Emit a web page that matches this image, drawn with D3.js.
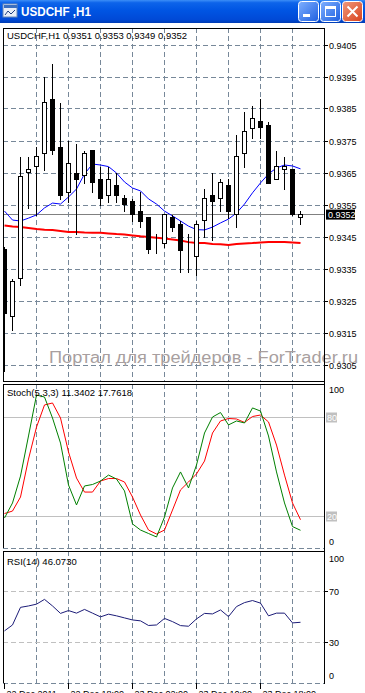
<html>
<head>
<meta charset="UTF-8">
<title>USDCHF,H1</title>
<script src="https://d3js.org/d3.v7.min.js"></script>
<style>
html,body{margin:0;padding:0;background:#fff;}
svg{display:block;}
text{font-family:"Liberation Sans",Arial,sans-serif;}
</style>
</head>
<body>
<div id="container"></div>
<script>
// candles, H1 bars starting 22 Dec 2011 10:00
const openP  = [0.9341,0.9320,0.9332,0.9365,0.9367,0.9371,0.9388,0.9373,0.9359,0.9365,0.9364,0.9372,0.9363,0.9358,0.9361,0.9357,0.9356,0.9353,0.9351,0.9342,0.9343,0.9351,0.9349,0.9340,0.9339,0.9350,0.9358,0.9357,0.9361,0.9352,0.9371,0.9379,0.9381,0.9380,0.9363,0.9366,0.9366,0.9351];
const highP  = [0.9342,0.9332,0.9370,0.9370,0.9373,0.9395,0.9399,0.9387,0.9375,0.9374,0.9372,0.9372,0.9367,0.9367,0.9365,0.9358,0.9357,0.9359,0.9351,0.9346,0.9352,0.9352,0.9350,0.9346,0.9350,0.9360,0.9365,0.9363,0.9363,0.9377,0.9384,0.9386,0.9388,0.9381,0.9372,0.9370,0.9366,0.9353];
const lowP   = [0.9303,0.9316,0.9330,0.9354,0.9352,0.9366,0.9371,0.9357,0.9356,0.9346,0.9362,0.9359,0.9355,0.9356,0.9356,0.9353,0.9350,0.9348,0.9340,0.9340,0.9342,0.9347,0.9334,0.9334,0.9333,0.9345,0.9344,0.9353,0.9351,0.9348,0.9367,0.9376,0.9376,0.9362,0.9363,0.9360,0.9352,0.9349];
const closeP = [0.9321,0.9331,0.9364,0.9366,0.9370,0.9387,0.9372,0.9358,0.9368,0.9363,0.9371,0.9362,0.9357,0.9363,0.9358,0.9355,0.9352,0.9350,0.9341,0.9342,0.9352,0.9348,0.9341,0.9340,0.9349,0.9357,0.9356,0.9362,0.9353,0.9370,0.9378,0.9382,0.9379,0.9362,0.9367,0.9367,0.9352,0.9352];

const maFast = [0.93531,0.93503,0.93500,0.93509,0.93519,0.93541,0.93556,0.93553,0.93575,0.93600,0.93647,0.93678,0.93675,0.93670,0.93650,0.93622,0.93603,0.93594,0.93569,0.93553,0.93531,0.93516,0.93500,0.93484,0.93473,0.93472,0.93481,0.93494,0.93506,0.93525,0.93553,0.93588,0.93619,0.93647,0.93666,0.93675,0.93672,0.93663];
const maSlow = [0.93486,0.93483,0.93481,0.93478,0.93475,0.93473,0.93472,0.93469,0.93466,0.93466,0.93464,0.93463,0.93463,0.93461,0.93459,0.93458,0.93455,0.93452,0.93450,0.93448,0.93445,0.93442,0.93439,0.93434,0.93431,0.93431,0.93428,0.93427,0.93425,0.93428,0.93430,0.93431,0.93433,0.93434,0.93434,0.93434,0.93433,0.93431];

const stochMain   = [18.8,27.9,44.2,68.5,93.3,92.1,79.4,64.2,38.8,26.7,38.2,39.1,41.2,44.8,42.4,35.2,15.2,11.5,9.4,7.3,19.4,37.0,46.7,37.0,50.9,70.3,80.0,82.7,75.2,77.6,76.4,85.5,83.6,68.5,46.7,27.9,13.6,11.3402];
const stochSignal = [21.5,23.0,31.5,54.5,73.9,87.3,88.5,79.4,58.8,43.0,34.5,34.5,41.2,42.7,42.7,40.6,31.5,20.6,11.5,9.1,11.5,23.6,35.8,40.6,45.5,53.3,70.3,77.6,79.1,78.8,76.7,80.3,81.2,77.0,63.0,44.8,27.9,17.7618];
const rsiVals     = [39.4,44.0,57.7,58.8,60.2,63.9,58.8,53.0,55.2,53.2,56.1,53.2,50.3,52.4,51.1,49.5,47.9,47.2,43.6,44.0,49.1,46.6,43.5,43.0,48.7,53.0,52.6,55.7,50.5,58.3,61.4,63.0,61.0,51.1,53.2,53.2,45.6,46.0730];

const priceTicks = [0.9405,0.9395,0.9385,0.9375,0.9365,0.9355,0.9345,0.9335,0.9325,0.9315,0.9305];
const stochLevels = [80,20];
const rsiLevels = [70,30];
const timeTickIdx = [0,8,16,24,32];
const timeTickText = ["22 Dec 2011","22 Dec 18:00","23 Dec 02:00","23 Dec 10:00","23 Dec 18:00"];
const lastPrice = 0.9352;

const W = 365, H = 693;
const L = 3, R = 324;
const main = {top:28, bottom:381};
const stoP = {top:384, bottom:548};
const rsiP = {top:551, bottom:683};
const gridCol = "#778899";

const x = d3.scaleLinear().domain([0, 37]).range([4.5, 300.5]);
const yP = d3.scaleLinear().domain([0.9305, 0.9405]).range([365, 45]);
const yS = d3.scaleLinear().domain([0, 100]).range([549, 384]);
const yR = d3.scaleLinear().domain([0, 100]).range([681.5, 553]);
const snap = v => Math.round(v) + 0.5;
const last = a => a[a.length - 1];

const svg = d3.select("#container").append("svg").attr("width", W).attr("height", H);
const defs = svg.append("defs");

// title bar
const tg = defs.append("linearGradient").attr("id","tb").attr("x1",0).attr("y1",0).attr("x2",0).attr("y2",1);
[["0%","#3c8ef7"],["12%","#0d64ea"],["45%","#0055e3"],["85%","#0049d6"],["100%","#003cb4"]].forEach(s=>tg.append("stop").attr("offset",s[0]).attr("stop-color",s[1]));
svg.append("rect").attr("width",W).attr("height",23).attr("fill","url(#tb)");
// icon
const ic = svg.append("g").attr("transform","translate(3,4)");
ic.append("rect").attr("width",14).attr("height",13).attr("fill","#e8eef8").attr("stroke","#6a8ab8");
ic.append("rect").attr("x",1).attr("y",1).attr("width",13).attr("height",3).attr("fill","#3a6fc0");
ic.append("path").attr("d","M2,11 L5,7 L8,10 L12,6").attr("fill","none").attr("stroke","#204080");
svg.append("text").attr("x",21).attr("y",16).attr("fill","#fff").attr("font-weight","bold")
  .attr("font-size",13).attr("textLength",70).attr("lengthAdjust","spacingAndGlyphs").text("USDCHF ,H1");

const bg = defs.append("linearGradient").attr("id","btn").attr("x1",0).attr("y1",0).attr("x2",1).attr("y2",1);
bg.append("stop").attr("offset","0%").attr("stop-color","#7fb0ff");
bg.append("stop").attr("offset","100%").attr("stop-color","#1e5fe0");
const cg = defs.append("linearGradient").attr("id","cls").attr("x1",0).attr("y1",0).attr("x2",1).attr("y2",1);
cg.append("stop").attr("offset","0%").attr("stop-color","#f09a7c");
cg.append("stop").attr("offset","100%").attr("stop-color","#d8401c");
[[298,"url(#btn)"],[320,"url(#btn)"],[342,"url(#cls)"]].forEach(b=>{
  svg.append("rect").attr("x",b[0]+0.5).attr("y",1.5).attr("width",20).attr("height",20).attr("rx",3)
    .attr("fill",b[1]).attr("stroke","#fff");
});
svg.append("rect").attr("x",303).attr("y",14).attr("width",7).attr("height",3).attr("fill","#fff");
svg.append("rect").attr("x",325.5).attr("y",6.5).attr("width",10).attr("height",10).attr("fill","none").attr("stroke","#fff").attr("stroke-width",1);
svg.append("rect").attr("x",325).attr("y",6).attr("width",11).attr("height",3).attr("fill","#fff");
svg.append("path").attr("d","M347.5,6.5 L357.5,16.5 M357.5,6.5 L347.5,16.5").attr("stroke","#fff").attr("stroke-width",2);

// window area under the title bar
svg.append("rect").attr("x",0).attr("y",23).attr("width",W).attr("height",H-23).attr("fill","#fff");

// clips
[["cm",main],["cs",stoP],["cr",rsiP]].forEach(c=>{
  defs.append("clipPath").attr("id",c[0]).append("rect")
    .attr("x",L+1).attr("y",c[1].top+1).attr("width",R-L-1).attr("height",c[1].bottom-c[1].top-1);
});

function vgrid(p){
  const g = svg.append("g");
  d3.range(4, 37, 4).forEach(k=>{
    g.append("line").attr("x1",snap(x(k)-0.5)).attr("x2",snap(x(k)-0.5))
      .attr("y1",p.top).attr("y2",p.bottom)
      .attr("stroke",gridCol).attr("stroke-dasharray","5,3");
  });
}

// ---------- main panel ----------
vgrid(main);
const hg = svg.append("g");
priceTicks.forEach(t=>{
  const yy = snap(yP(t)-0.5);
  hg.append("line").attr("x1",L).attr("x2",R).attr("y1",yy).attr("y2",yy)
    .attr("stroke",gridCol).attr("stroke-dasharray","5,3");
  hg.append("line").attr("x1",R).attr("x2",R+4).attr("y1",yy).attr("y2",yy).attr("stroke","#000");
  hg.append("text").attr("x",329).attr("y",yy+3.5).attr("font-size",9).attr("fill","#000").text(t.toFixed(4));
});

// watermark
svg.append("text").attr("x",49).attr("y",363).attr("font-size",16).attr("fill","#a89f9f")
  .attr("textLength",309).attr("lengthAdjust","spacingAndGlyphs").text("Портал для трейдеров - ForTrader.ru");

const mg = svg.append("g").attr("clip-path","url(#cm)");
// last price line
mg.append("line").attr("x1",L).attr("x2",R).attr("y1",snap(yP(lastPrice)-0.5)).attr("y2",snap(yP(lastPrice)-0.5))
  .attr("stroke","#808080");

mg.append("path").datum(maSlow).attr("fill","none").attr("stroke","#ff0000").attr("stroke-width",2)
  .attr("d", d3.line().x((d,i)=>x(i)).y(d=>yP(d)));
mg.append("path").datum(maFast).attr("fill","none").attr("stroke","#0000ff").attr("stroke-width",1)
  .attr("d", d3.line().x((d,i)=>x(i)).y(d=>yP(d)));

const bars = openP.map((o,i)=>({i, o, h:highP[i], l:lowP[i], c:closeP[i]}));
const cs = mg.selectAll(".bar").data(bars).enter().append("g").attr("class","bar");
cs.append("line").attr("x1",d=>x(d.i)).attr("x2",d=>x(d.i))
  .attr("y1",d=>Math.round(yP(d.h))).attr("y2",d=>Math.round(yP(d.l))+1).attr("stroke","#000");
cs.append("rect")
  .attr("x",d=>x(d.i)-2).attr("width",4)
  .attr("y",d=>snap(Math.min(yP(d.o),yP(d.c))-0.5))
  .attr("height",d=>Math.max(0, Math.round(Math.abs(yP(d.o)-yP(d.c)))))
  .attr("fill",d=>d.c>=d.o ? "#fff" : "#000").attr("stroke","#000");

// last price label
const lpY = yP(lastPrice);
svg.append("rect").attr("x",326).attr("y",lpY-5).attr("width",29).attr("height",10).attr("fill","#000");
svg.append("text").attr("x",328).attr("y",lpY+3.5).attr("font-size",9).attr("fill","#fff").text(lastPrice.toFixed(4));

svg.append("text").attr("x",7).attr("y",38.5).attr("font-size",9.5).attr("fill","#000")
  .text("USDCHF,H1  " + [last(openP),last(highP),last(lowP),last(closeP)].map(v=>v.toFixed(4)).join(" "));

// ---------- stochastic ----------
vgrid(stoP);
const sg = svg.append("g");
stochLevels.forEach(l=>{
  const yy = snap(yS(l)-0.5);
  sg.append("line").attr("x1",L).attr("x2",R).attr("y1",yy).attr("y2",yy).attr("stroke","#c0c0c0");
  sg.append("rect").attr("x",326).attr("y",yy-5).attr("width",11).attr("height",10).attr("fill","#c0c0c0");
  sg.append("text").attr("x",327).attr("y",yy+3.5).attr("font-size",9).attr("fill","#fff").text(l);
});
sg.append("text").attr("x",329).attr("y",393).attr("font-size",9).text("100");
sg.append("text").attr("x",329).attr("y",545).attr("font-size",9).text("0");
const sl = svg.append("g").attr("clip-path","url(#cs)");
sl.append("path").datum(stochSignal).attr("fill","none").attr("stroke","#ff0000")
  .attr("d", d3.line().x((d,i)=>x(i)).y(d=>yS(d)));
sl.append("path").datum(stochMain).attr("fill","none").attr("stroke","#008000")
  .attr("d", d3.line().x((d,i)=>x(i)).y(d=>yS(d)));
svg.append("text").attr("x",7).attr("y",395.5).attr("font-size",9.5)
  .text("Stoch(5,3,3) " + last(stochMain).toFixed(4) + " " + last(stochSignal).toFixed(4));

// ---------- RSI ----------
vgrid(rsiP);
const rg = svg.append("g");
rsiLevels.forEach(l=>{
  const yy = snap(yR(l)-0.5);
  rg.append("line").attr("x1",L).attr("x2",R).attr("y1",yy).attr("y2",yy).attr("stroke","#c0c0c0").attr("stroke-dasharray","5,3");
  rg.append("line").attr("x1",R).attr("x2",R+4).attr("y1",yy).attr("y2",yy).attr("stroke","#000");
  rg.append("text").attr("x",329).attr("y",yy+3.5).attr("font-size",9).text(l);
});
rg.append("text").attr("x",329).attr("y",561.5).attr("font-size",9).text("100");
rg.append("text").attr("x",329).attr("y",679).attr("font-size",9).text("0");
svg.append("g").attr("clip-path","url(#cr)").append("path").datum(rsiVals)
  .attr("fill","none").attr("stroke","#1c1c78")
  .attr("d", d3.line().x((d,i)=>x(i)).y(d=>yR(d)));
svg.append("text").attr("x",7).attr("y",565).attr("font-size",9.5).text("RSI(14) " + last(rsiVals).toFixed(4));

// panel borders
[main,stoP,rsiP].forEach((p,j)=>{
  svg.append("line").attr("x1",L+0.5).attr("x2",L+0.5).attr("y1",p.top).attr("y2",p.bottom+1).attr("stroke","#000");
  svg.append("line").attr("x1",L).attr("x2",R+1).attr("y1",p.top+0.5).attr("y2",p.top+0.5).attr("stroke","#000");
  if (j===0) svg.append("line").attr("x1",L).attr("x2",R+1).attr("y1",p.bottom+0.5).attr("y2",p.bottom+0.5).attr("stroke","#000");
  else svg.append("line").attr("x1",L).attr("x2",R).attr("y1",p.bottom+0.5).attr("y2",p.bottom+0.5).attr("stroke",gridCol).attr("stroke-dasharray","5,3");
});
svg.append("line").attr("x1",R+0.5).attr("x2",R+0.5).attr("y1",main.top).attr("y2",rsiP.bottom+1).attr("stroke","#000");

// time axis (labels run past the bottom edge, as in the screenshot)
timeTickIdx.forEach((k,j)=>{
  const xx = snap(x(k)-0.5);
  svg.append("line").attr("x1",xx).attr("x2",xx).attr("y1",rsiP.bottom).attr("y2",rsiP.bottom+6).attr("stroke","#000");
  svg.append("text").attr("x",xx+2).attr("y",697).attr("font-size",9).text(timeTickText[j]);
});
</script>
</body>
</html>
